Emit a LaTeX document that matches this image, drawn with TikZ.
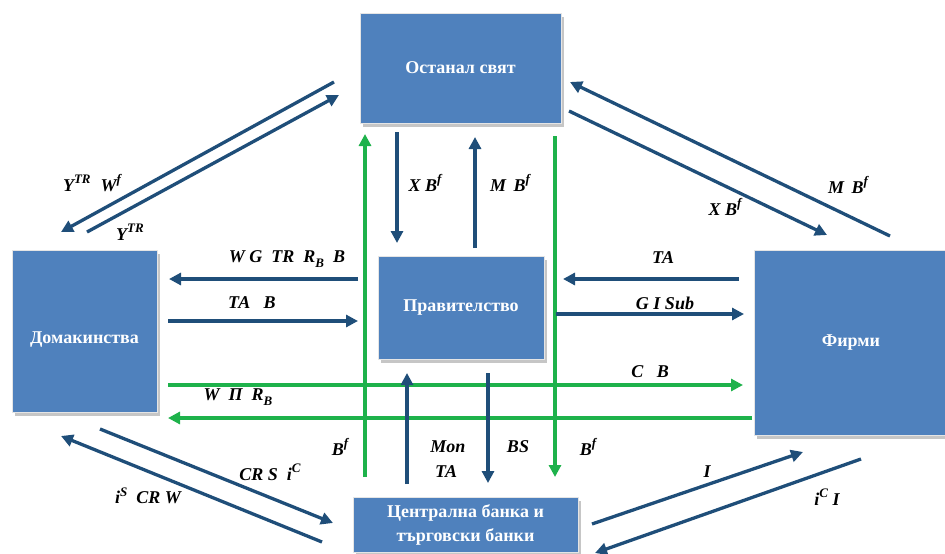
\documentclass[tikz,border=0pt]{standalone}
\usepackage{fontspec}
\setmainfont{Liberation Serif}
\usetikzlibrary{arrows.meta,shadows}
\definecolor{boxblue}{HTML}{4F81BD}
\definecolor{arrblue}{HTML}{1F4E79}
\definecolor{arrgreen}{RGB}{30,178,75}
\newcommand{\sps}[1]{\raisebox{0.42em}{\fontsize{13}{13}\selectfont #1}}
\newcommand{\sbs}[1]{\raisebox{-0.25em}{\fontsize{13}{13}\selectfont #1}}
\begin{document}
\begin{tikzpicture}[x=1pt,y=-1pt,
  sector/.style={fill=boxblue, draw=gray!20, line width=0.8pt, text=white,
    font=\fontsize{18}{24}\selectfont\bfseries, align=center, inner sep=0pt,
    drop shadow={shadow xshift=3pt, shadow yshift=-4pt, fill=gray!45, opacity=1}},
  flow/.style={draw=arrblue, line width=3.3pt, -{Triangle[length=12pt,width=12pt]}},
  gflow/.style={draw=arrgreen, line width=3.3pt, -{Triangle[length=12pt,width=12pt]}},
  lab/.style={font=\fontsize{18}{19}\selectfont\bfseries\itshape, text=black, inner sep=0pt}]
\useasboundingbox (0,0) rectangle (945,554);

% boxes
\node[sector, minimum width=201pt, minimum height=110pt] (world) at (460.5,68) {Останал свят};
\node[sector, minimum width=166pt, minimum height=103pt] (gov) at (461,307.5) {Правителство};
\node[sector, minimum width=145pt, minimum height=162pt, text height=26pt, text depth=2pt] (hh) at (84.5,331) {Домакинства};
\node[sector, minimum width=194pt, minimum height=185pt] (firms) at (851,342.5) {Фирми};
\node[sector, minimum width=225pt, minimum height=55pt] (bank) at (465.5,524.5) {Централна банка и\\търговски банки};

% connector end points
\coordinate (wh1s) at (334,82);  \coordinate (wh1e) at (61,232);
\coordinate (wh2s) at (87,232);  \coordinate (wh2e) at (339,95);
\coordinate (wf1s) at (890,236); \coordinate (wf1e) at (570,82);
\coordinate (wf2s) at (569,111); \coordinate (wf2e) at (827,235);
\coordinate (wg1s) at (397,132); \coordinate (wg1e) at (397,243);
\coordinate (wg2s) at (475,248); \coordinate (wg2e) at (475,137);
\coordinate (bw1s) at (365,477); \coordinate (bw1e) at (365,134);
\coordinate (wb1s) at (555,136); \coordinate (wb1e) at (555,477);
\coordinate (gh1s) at (358,279); \coordinate (gh1e) at (169,279);
\coordinate (hg1s) at (168,321); \coordinate (hg1e) at (358,321);
\coordinate (fg1s) at (739,279); \coordinate (fg1e) at (563,279);
\coordinate (gf1s) at (556,314); \coordinate (gf1e) at (744,314);
\coordinate (hf1s) at (168,385); \coordinate (hf1e) at (743,385);
\coordinate (fh1s) at (752,418); \coordinate (fh1e) at (168,418);
\coordinate (bg1s) at (407,484); \coordinate (bg1e) at (407,373);
\coordinate (gb1s) at (488,373); \coordinate (gb1e) at (488,483);
\coordinate (hb1s) at (100,429); \coordinate (hb1e) at (333,523);
\coordinate (bh1s) at (322,542); \coordinate (bh1e) at (61,436);
\coordinate (bf1s) at (592,524); \coordinate (bf1e) at (803,452);
\coordinate (fb1s) at (861,459); \coordinate (fb1e) at (595,553);

% green flows
\draw[gflow] (bw1s) -- (bw1e);
\draw[gflow] (wb1s) -- (wb1e);
\draw[gflow] (hf1s) -- (hf1e);
\draw[gflow] (fh1s) -- (fh1e);

% blue flows
\draw[flow] (wh1s) -- (wh1e);
\draw[flow] (wh2s) -- (wh2e);
\draw[flow] (wf1s) -- (wf1e);
\draw[flow] (wf2s) -- (wf2e);
\draw[flow] (wg1s) -- (wg1e);
\draw[flow] (wg2s) -- (wg2e);
\draw[flow] (gh1s) -- (gh1e);
\draw[flow] (hg1s) -- (hg1e);
\draw[flow] (fg1s) -- (fg1e);
\draw[flow] (gf1s) -- (gf1e);
\draw[flow] (bg1s) -- (bg1e);
\draw[flow] (gb1s) -- (gb1e);
\draw[flow] (hb1s) -- (hb1e);
\draw[flow] (bh1s) -- (bh1e);
\draw[flow] (bf1s) -- (bf1e);
\draw[flow] (fb1s) -- (fb1e);

% labels
\node[lab] (l1) at (92,183) {Y\sps{TR}\hspace{10pt}W\sps{f}};
\node[lab] (l2) at (130,232) {Y\sps{TR}};
\node[lab] (l3) at (425,183) {X B\sps{f}};
\node[lab] (l4) at (510,183) {M\, B\sps{f}};
\node[lab] (l5) at (848,185) {M\, B\sps{f}};
\node[lab] (l6) at (725,207) {X B\sps{f}};
\node[lab] (l7) at (287,259) {W G\ \ TR\ \ R\sbs{B}\ \ B};
\node[lab] (l8) at (252,303) {TA\ \ \ B};
\node[lab] (l9) at (663,258) {TA};
\node[lab] (l10) at (665,303) {G I Sub};
\node[lab] (l11) at (650,372) {C\ \ \ B};
\node[lab] (l12) at (238,397) {W\ \ Π\ \ R\sbs{B}};
\node[lab] (l13) at (340,447) {B\sps{f}};
\node[lab] (l14) at (448,447) {Mon};
\node[lab] (l15) at (446,472) {TA};
\node[lab] (l16) at (518,447) {BS};
\node[lab] (l17) at (588,447) {B\sps{f}};
\node[lab] (l18) at (270,472) {CR S\ \ i\sps{C}};
\node[lab] (l19) at (148,496) {i\sps{S}\ \ CR W};
\node[lab] (l20) at (707,472) {I};
\node[lab] (l21) at (827,497) {i\sps{C} I};
\end{tikzpicture}
\end{document}
